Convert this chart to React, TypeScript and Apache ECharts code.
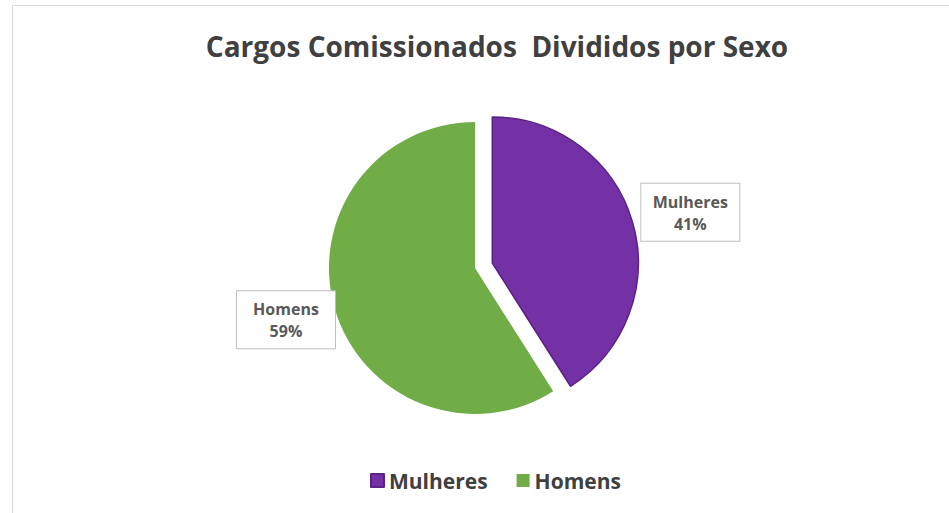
import React, { useEffect, useRef } from "react";
import * as echarts from "echarts";

const categories = ["Mulheres", "Homens"];
const values = [41, 59];
const colors = ["#7431A6", "#70AD47"];
const titleText = "Cargos Comissionados  Divididos por Sexo";

export default function App() {
  const ref = useRef<HTMLDivElement>(null);
  useEffect(() => {
    if (!ref.current) return;
    const chart = echarts.init(ref.current, null, { renderer: "svg" });
    chart.setOption({
      animation: false,
      backgroundColor: "#ffffff",
      title: {
        text: titleText,
        left: 492,
        textAlign: "center",
        top: 27,
        textStyle: {
          fontFamily: "Open Sans",
          fontWeight: "bold",
          fontSize: 28,
          color: "#404040",
        },
      },
      legend: {
        data: categories,
        bottom: 17,
        left: 365,
        itemWidth: 13,
        itemHeight: 13,
        itemGap: 29,
        icon: "rect",
        textStyle: {
          fontFamily: "Open Sans",
          fontWeight: "bold",
          fontSize: 21,
          color: "#404040",
        },
      },
      graphic: [
        {
          type: "rect",
          shape: { x: 12.5, y: 5.5, width: 1000, height: 600 },
          style: { fill: "none", stroke: "#d9d9d9", lineWidth: 1 },
          silent: true,
          z: -10,
        },
      ],
      series: [
        {
          type: "pie",
          center: [475, 268],
          radius: 146,
          startAngle: 90,
          clockwise: true,
          selectedMode: "single",
          selectedOffset: 18,
          percentPrecision: 0,
          data: categories.map((name, i) => ({
            name,
            value: values[i],
            selected: i === 0,
            itemStyle: {
              color: colors[i],
              borderColor: i === 0 ? "#5B2286" : colors[i],
              borderWidth: i === 0 ? 1.5 : 0,
            },
          })),
          label: {
            show: true,
            position: "outside",
            formatter: "{a|{b}}\n{a|{d}%}",
            backgroundColor: "#ffffff",
            borderColor: "#bfbfbf",
            borderWidth: 1,
            padding: [7, 8, 6, 8],
            rich: {
              a: {
                fontFamily: "Open Sans",
                fontWeight: "bold",
                fontSize: 16,
                lineHeight: 22,
                color: "#595959",
                align: "center",
                width: 82,
              },
            },
          },
          labelLine: { show: false, length: 4, length2: 0 },
          labelLayout: (p: any) =>
            p.dataIndex === 0 ? { dy: -9 } : { dx: 9, dy: 10 },
          emphasis: { disabled: true },
        },
      ],
    });
    return () => chart.dispose();
  }, []);
  return (
    <div
      ref={ref}
      style={{ position: "fixed", left: 0, top: 0, width: 949, height: 513 }}
    />
  );
}
